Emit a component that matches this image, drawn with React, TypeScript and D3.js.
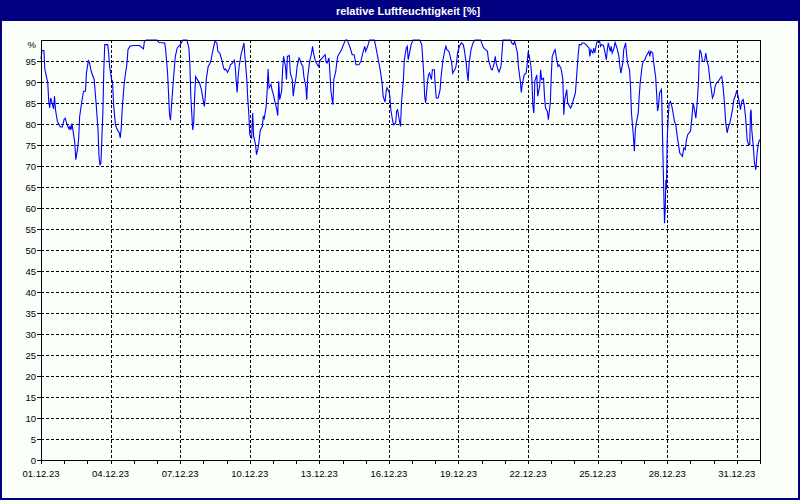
import React, { useEffect, useRef } from 'react';
import * as d3 from 'd3';

const chartTitle = 'relative Luftfeuchtigkeit [%]';
const startDate = new Date(2023, 11, 1, 0, 0);
const endDate = new Date(2024, 0, 1, 0, 0);
const yTicks = d3.range(0, 100, 5); // 0 .. 95, top shows "%"

// [hours since 01.12.23 00:00, relative humidity %]
const readings: [number, number][] = [
  [0, 95.5], [1, 97.5], [3, 97.5], [4, 93], [7, 89.8], [8, 85.4], [9, 83.8], [10, 86.2],
  [11, 85.4], [13, 83.6], [14, 86.6], [15, 83.4], [17, 80.6], [20, 79.3], [22, 79.3], [24, 81.2],
  [25, 81.4], [27, 79.8], [29, 78.8], [30, 79.4], [31, 78.6], [32, 80.1], [33, 78.6], [35, 75.5],
  [36, 71.5], [38, 74.3], [39, 76.7], [40, 81.8], [42, 85], [44, 87.8], [46, 87.8], [47, 92.1],
  [49, 95.1], [50, 94.7], [52, 92.5], [55, 90.6], [57, 85], [59, 78.6], [60, 72.3], [61, 70.3],
  [62, 70.7], [64, 82.6], [65, 92.9], [66, 98.9], [69, 98.9], [70, 96.9], [71, 93.7], [73, 90.6],
  [74, 90.2], [75, 85], [77, 79.8], [79, 78.6], [81, 77.9], [82, 76.7], [83, 79], [84, 83.4],
  [86, 89.4], [87, 91.3], [89, 94.5], [90, 97.7], [92, 98.5], [95, 98.7], [102, 98.7], [106, 97.9],
  [107, 99.7], [109, 100], [120, 100], [122, 99.4], [128, 99.3], [129, 97.7], [131, 92.1], [133, 82.2],
  [134, 80.9], [135, 84.2], [137, 90.6], [139, 96.1], [141, 98.1], [144, 98.9], [147, 100], [151, 100],
  [153, 98.1], [154, 94.5], [155, 86.6], [157, 78.6], [158, 80.3], [159, 86.6], [160, 91.3], [162, 90.5],
  [164, 89.8], [166, 88.2], [168, 85.4], [169, 84.2], [170, 86.6], [171, 90.6], [173, 93.7], [175, 94.5],
  [176, 95.3], [178, 97.7], [180, 99.7], [182, 99.3], [183, 97.3], [185, 96.9], [187, 95.3], [189, 93.3],
  [190, 92.9], [191, 93.1], [193, 92.3], [195, 93.3], [196, 94.1], [198, 94.5], [200, 95.2], [201, 93.7],
  [202, 90.2], [203, 87.5], [204, 91.3], [205, 93.7], [207, 96.5], [209, 98.3], [210, 99.3], [211, 96.1],
  [213, 90.6], [214, 85.8], [215, 82.6], [216, 77.5], [218, 76.7], [219, 82.6], [220, 77.1], [222, 75.1],
  [223, 72.7], [225, 74.7], [226, 76.7], [227, 78.6], [229, 79.4], [230, 81.7], [231, 81.3], [233, 84.2],
  [234, 87.8], [235, 93.1], [236, 88.6], [238, 89.4], [239, 88.2], [240, 87.4], [242, 85.4], [244, 83.4],
  [245, 82], [246, 90.2], [247, 85.8], [249, 87.8], [250, 92.9], [251, 96.1], [253, 93.7], [254, 90.6],
  [255, 96.1], [257, 96.3], [258, 92.1], [260, 90.6], [261, 86.6], [262, 88.6], [264, 91.3], [265, 93.7],
  [267, 95.7], [268, 95.3], [269, 94.5], [271, 93.7], [272, 91.3], [274, 89], [275, 85.8], [276, 91.3],
  [278, 94.9], [280, 96.9], [281, 98.5], [282, 96.9], [284, 94.9], [285, 94.5], [287, 93.7], [289, 95.3],
  [291, 95.7], [292, 96], [294, 96.5], [295, 94.7], [296, 94.5], [298, 95.7], [299, 92.1], [300, 87.8],
  [302, 84.6], [303, 90.6], [305, 92.5], [306, 94.5], [307, 96.1], [309, 96.9], [311, 97.7], [313, 98.9],
  [315, 100], [317, 100], [318, 99.3], [320, 98.1], [322, 96.5], [324, 96.5], [326, 94.1], [329, 94.1],
  [331, 94.9], [333, 96.9], [335, 98.5], [336, 97.3], [338, 98.5], [339, 99.3], [340, 100], [345, 100],
  [347, 97.7], [349, 95.3], [351, 92.9], [353, 89.8], [354, 86.6], [356, 85.2], [357, 87.5], [358, 88.6],
  [360, 87.8], [361, 86.6], [362, 83.4], [364, 80.6], [365, 79.8], [367, 80.3], [368, 83.1], [369, 83.4],
  [371, 80.6], [372, 79.4], [373, 85], [375, 90.6], [376, 95.3], [378, 98.1], [379, 98.5], [380, 95.3],
  [382, 97.7], [383, 98.9], [385, 100], [392, 100], [394, 98.9], [396, 92.1], [397, 86.6], [398, 85],
  [400, 90.2], [401, 91.7], [402, 92.1], [404, 90.6], [405, 92.9], [407, 92.9], [408, 89], [409, 86.2],
  [411, 86.2], [413, 88.2], [414, 91.3], [416, 95.3], [418, 97.7], [419, 98.5], [420, 97.7], [422, 97.3],
  [423, 96.5], [425, 94.5], [426, 92.1], [427, 92.5], [429, 93.3], [430, 94.5], [431, 96.9], [433, 98.5],
  [435, 99.3], [437, 98.9], [438, 97.7], [440, 94.5], [441, 92.1], [442, 90.2], [443, 94.5], [445, 97.7],
  [447, 99.3], [449, 100], [455, 100], [456, 99.3], [458, 98.1], [460, 97.7], [462, 97.3], [463, 95.3],
  [465, 93.7], [466, 92.9], [467, 92.9], [469, 94.5], [470, 96.1], [471, 94.5], [473, 92.9], [474, 92.4],
  [476, 93.7], [477, 96.9], [478, 100], [486, 100], [487, 99.3], [489, 98.9], [490, 99.7], [491, 98.9],
  [493, 96.9], [494, 93.7], [496, 90.2], [497, 87.5], [498, 89.4], [499, 90.6], [500, 91.7], [502, 92.1],
  [503, 94.1], [504, 96.9], [505, 96.5], [507, 93.7], [508, 90.6], [509, 84.2], [510, 82.6], [511, 90.2],
  [513, 91.7], [514, 86.6], [516, 89], [517, 92.9], [518, 90.6], [520, 90.9], [521, 86.6], [522, 83.8],
  [524, 83], [525, 81], [527, 85], [528, 91.3], [529, 96.1], [531, 97.3], [532, 97.7], [533, 96.1],
  [535, 93.7], [536, 94.1], [538, 93.3], [539, 92.1], [540, 90.6], [541, 82.2], [542, 85.8], [544, 88.2],
  [545, 85], [547, 84.2], [548, 83.8], [549, 84.2], [551, 85.8], [553, 87.4], [554, 90.6], [556, 96.9],
  [557, 98.9], [559, 98.9], [560, 99.3], [562, 99.3], [564, 98.9], [567, 98.1], [568, 96.1], [569, 97.7],
  [571, 96.9], [572, 98.1], [573, 96.9], [575, 99.3], [576, 99.8], [578, 99.7], [579, 98.5], [580, 98.9],
  [582, 98.7], [583, 97.7], [585, 95.3], [586, 97.7], [587, 99.3], [589, 97.3], [590, 98.5], [591, 96.9],
  [593, 98.1], [594, 99.4], [596, 98.1], [598, 96.1], [599, 93.7], [600, 92.1], [602, 94.5], [603, 97.7],
  [605, 99.3], [606, 96.5], [607, 94.5], [609, 92.9], [610, 89], [611, 82.6], [613, 77.1], [614, 73.5],
  [615, 78.6], [616, 80.2], [618, 82.6], [619, 86.6], [620, 89.8], [622, 93.7], [623, 94.9], [625, 95.3],
  [626, 96.1], [627, 96.5], [629, 97.3], [630, 96.1], [631, 97.3], [633, 96.9], [634, 94.5], [636, 91.3],
  [637, 87.4], [638, 83.1], [639, 84.2], [640, 87.4], [642, 88.2], [642.4, 85.4], [643.8, 70], [645.2, 56.4],
  [645.9, 59.6], [646.6, 66.7], [647.2, 64.4], [647.9, 75.4], [648.6, 79.8], [650, 85], [651.4, 85.4], [652.8, 84.2],
  [654.1, 82.6], [655.5, 80.6], [656.9, 79.8], [658.3, 77.1], [659.7, 75.1], [661, 73.1], [662.4, 72.7], [663.8, 72.3],
  [665.2, 74.3], [666.6, 73.9], [667.9, 76.3], [669.3, 77.5], [670.7, 77.9], [672.1, 78.3], [673.5, 81.4], [674.8, 85],
  [676.2, 83.4], [677.6, 81.4], [679, 85], [680.3, 89.8], [681, 94.9], [681.7, 97.7], [683.1, 96.9], [684.5, 94.9],
  [686.6, 94.9], [687.9, 96.9], [689.3, 94.9], [690.7, 93.7], [692.1, 90.6], [693.4, 88.6], [694.8, 86.2], [696.2, 87],
  [697.6, 89], [699, 89.8], [701, 90.2], [703.1, 91], [704.5, 91.3], [705.9, 88.6], [707.2, 85], [708.6, 80.2],
  [710, 77.9], [711.4, 79.4], [712.8, 80.2], [714.1, 81.7], [715.5, 83.4], [716.9, 85.8], [718.3, 86.6], [719.7, 87.8],
  [721, 87], [722.4, 85.4], [723.8, 83.4], [725.2, 85.4], [726.6, 85.8], [727.9, 84.2], [729.3, 81], [730.7, 76.3],
  [732.1, 75.1], [733.4, 75.1], [734.1, 82.6], [734.8, 83.4], [735.5, 78.6], [736.9, 75.1], [738.3, 70.7], [739.7, 69.1],
  [741, 73.1], [742.4, 75.5], [743.8, 76.3],
];

const App: React.FC = () => {
  const svgRef = useRef<SVGSVGElement>(null);

  useEffect(() => {
    if (!svgRef.current) return;
    document.body.style.margin = '0';

    const svg = d3.select(svgRef.current);
    svg.selectAll('*').remove();

    const W = 800, H = 500;
    const left = 41, right = 760, top = 40, bottom = 460;
    const font = '"Liberation Sans", Arial, sans-serif';

    // frame + title bar
    svg.append('rect').attr('width', W).attr('height', H).attr('fill', '#fafffa');
    svg.append('rect').attr('x', 1).attr('y', 1).attr('width', W - 2).attr('height', H - 2)
      .attr('fill', 'none').attr('stroke', '#000080').attr('stroke-width', 2);
    svg.append('rect').attr('width', W).attr('height', 21).attr('fill', '#000080');
    svg.append('text')
      .attr('x', 408).attr('y', 14.5)
      .attr('text-anchor', 'middle')
      .attr('fill', '#ffffff')
      .style('font-family', font)
      .style('font-size', '11px')
      .style('font-weight', 'bold')
      .text(chartTitle);

    const x = d3.scaleTime().domain([startDate, endDate]).range([left, right]);
    const y = d3.scaleLinear().domain([0, 100]).range([bottom, top]);
    const toDate = (h: number) => new Date(startDate.getTime() + h * 3600 * 1000);

    const days = d3.timeDay.range(startDate, d3.timeDay.offset(endDate, 1));
    const majorDays = days.filter((d, i) => i % 3 === 0 && d < endDate);
    const fmt = d3.timeFormat('%d.%m.%y');

    // horizontal dashed grid
    svg.append('g').selectAll('line')
      .data(yTicks.filter(v => v > 0))
      .join('line')
      .attr('x1', left).attr('x2', right)
      .attr('y1', d => y(d) + 0.5).attr('y2', d => y(d) + 0.5)
      .attr('stroke', '#000').attr('stroke-dasharray', '3,2');

    // vertical dashed grid
    svg.append('g').selectAll('line')
      .data(majorDays.slice(1))
      .join('line')
      .attr('x1', d => Math.round(x(d)) + 0.5).attr('x2', d => Math.round(x(d)) + 0.5)
      .attr('y1', top).attr('y2', bottom)
      .attr('stroke', '#000').attr('stroke-dasharray', '3,2');

    // data line
    const line = d3.line<[number, number]>()
      .x(d => x(toDate(d[0])))
      .y(d => y(d[1]));
    svg.append('path')
      .datum(readings)
      .attr('d', line)
      .attr('fill', 'none')
      .attr('stroke', '#0000ff')
      .attr('stroke-width', 1.1);

    // plot frame
    svg.append('rect')
      .attr('x', left + 0.5).attr('y', top + 0.5)
      .attr('width', right - left).attr('height', bottom - top)
      .attr('fill', 'none').attr('stroke', '#000');

    // x axis ticks
    svg.append('g').selectAll('line')
      .data(days)
      .join('line')
      .attr('x1', d => Math.round(x(d)) + 0.5).attr('x2', d => Math.round(x(d)) + 0.5)
      .attr('y1', bottom).attr('y2', bottom + 4)
      .attr('stroke', '#000');

    svg.append('g').selectAll('text')
      .data(majorDays)
      .join('text')
      .attr('x', d => x(d))
      .attr('y', 477)
      .attr('text-anchor', 'middle')
      .style('font-family', font)
      .style('font-size', '9.5px')
      .attr('fill', '#000')
      .text(d => fmt(d));

    // y axis ticks
    svg.append('g').selectAll('line')
      .data(yTicks)
      .join('line')
      .attr('x1', left - 4).attr('x2', left)
      .attr('y1', d => y(d) + 0.5).attr('y2', d => y(d) + 0.5)
      .attr('stroke', '#000');

    svg.append('g').selectAll('text')
      .data(yTicks)
      .join('text')
      .attr('x', 36)
      .attr('y', d => y(d) + 3.5)
      .attr('text-anchor', 'end')
      .style('font-family', font)
      .style('font-size', '9.5px')
      .attr('fill', '#000')
      .text(d => String(d));

    svg.append('text')
      .attr('x', 36).attr('y', 47.5)
      .attr('text-anchor', 'end')
      .style('font-family', font)
      .style('font-size', '9.5px')
      .attr('fill', '#000')
      .text('%');
  }, []);

  return (
    <div style={{ position: 'absolute', left: 0, top: 0 }}>
      <svg ref={svgRef} width={800} height={500} style={{ display: 'block' }} />
    </div>
  );
};

export default App;
